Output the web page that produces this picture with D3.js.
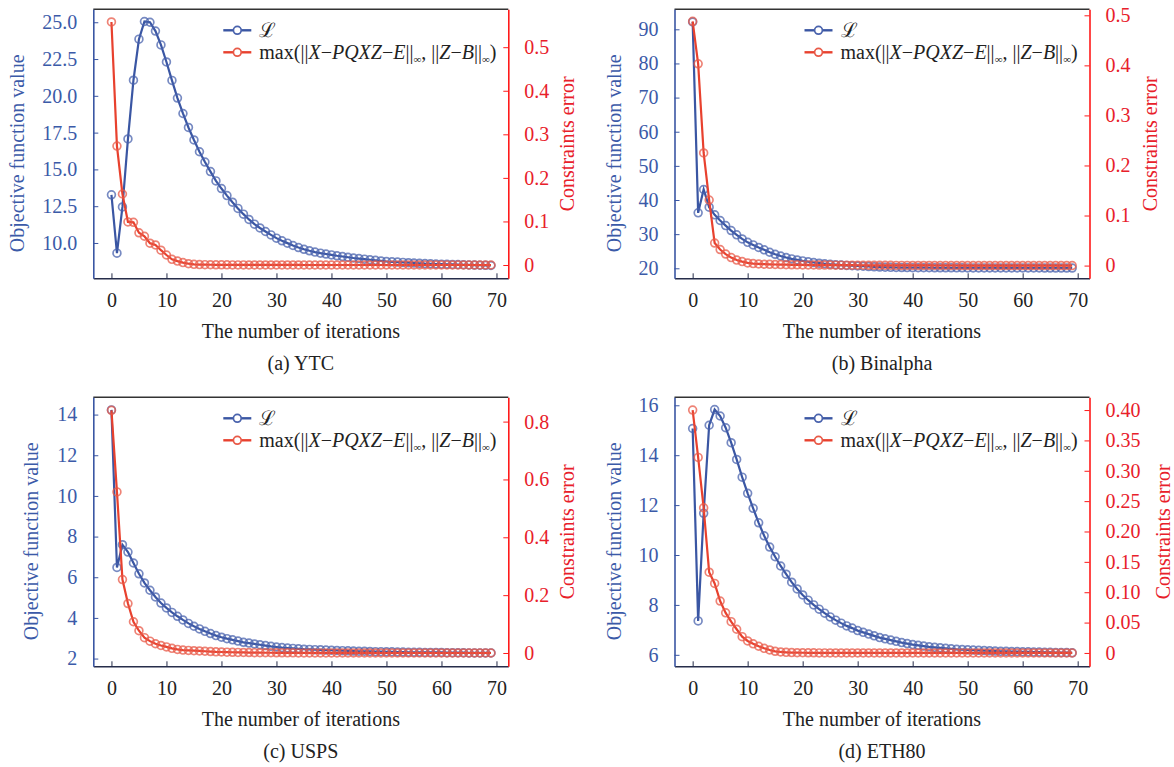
<!DOCTYPE html>
<html>
<head>
<meta charset="utf-8">
<script src="https://cdn.jsdelivr.net/npm/d3@7"></script>
<style>
body{margin:0;background:#fff}
svg text{font-family:"Liberation Serif","Times New Roman",serif}
</style>
</head>
<body>
<svg id="chart" width="1174" height="767"></svg>
<script>
// objective value L and constraint error, one value per iteration (0..69)
const ytcObjective = [13.27,9.31,12.45,17.07,21.06,23.85,25.05,25.0,24.4,23.46,
  22.3,21.05,19.85,18.8,17.85,17.0,16.2,15.5,14.85,14.22,
  13.7,13.22,12.77,12.35,11.96,11.6,11.28,11.02,10.78,10.55,
  10.33,10.15,9.99,9.83,9.69,9.57,9.47,9.38,9.31,9.25,
  9.19,9.13,9.08,9.03,8.98,8.94,8.9,8.86,8.82,8.78,
  8.74,8.72,8.7,8.68,8.66,8.64,8.62,8.6,8.59,8.57,
  8.56,8.55,8.54,8.53,8.52,8.51,8.5,8.49,8.48,8.47]
const ytcError = [0.558,0.273,0.163,0.099,0.098,0.074,0.066,0.05,0.046,0.034,
  0.023,0.013,0.009,0.0055,0.003,0.0015,0.001,0.0008,0.0006,0.0005,
  0.0004,0.0004,0.0003,0.0003,0.0003,0.0002,0.0002,0.0002,0.0002,0.0001,
  0.0001,0.0001,0.0001,0.0001,0.0001,0,0,0,0,0,
  0,0,0,0,0,0,0,0,0,0,
  0,0,0,0,0,0,0,0,0,0,
  0,0,0,0,0,0,0,0,0,0]

const binObjective = [92.15,36.24,43.08,37.9,35.65,34.0,32.5,31.05,29.8,28.6,
  27.6,26.85,26.1,25.4,24.7,24.1,23.6,23.15,22.75,22.45,
  22.16,21.92,21.7,21.5,21.33,21.18,21.05,20.94,20.85,20.76,
  20.69,20.6,20.52,20.44,20.37,20.31,20.27,20.24,20.22,20.2,
  20.19,20.18,20.17,20.16,20.15,20.15,20.14,20.14,20.13,20.13,
  20.12,20.12,20.12,20.11,20.11,20.11,20.1,20.1,20.1,20.1,
  20.09,20.09,20.09,20.09,20.08,20.08,20.08,20.08,20.08,20.07]
const binError = [0.488,0.403,0.225,0.131,0.045,0.032,0.023,0.016,0.011,0.008,
  0.0053,0.004,0.0033,0.0028,0.0025,0.0022,0.002,0.0018,0.0016,0.0015,
  0.0014,0.0013,0.0012,0.0011,0.001,0.001,0.0009,0.0009,0.0008,0.0008,
  0.0007,0.0007,0.0006,0.0006,0.0005,0.0005,0.0005,0.0004,0.0004,0.0004,
  0.0003,0.0003,0.0003,0.0003,0.0002,0.0002,0.0002,0.0002,0.0002,0.0001,
  0.0001,0.0001,0.0001,0.0001,0.0001,0,0,0,0,0,
  0,0,0,0,0,0,0,0,0,0]

const uspsObjective = [14.23,6.48,7.6,7.24,6.7,6.17,5.72,5.36,5.03,4.73,
  4.49,4.27,4.08,3.9,3.73,3.59,3.46,3.34,3.23,3.13,
  3.05,2.98,2.92,2.86,2.8,2.76,2.72,2.68,2.64,2.6,
  2.57,2.54,2.52,2.5,2.48,2.46,2.45,2.44,2.43,2.42,
  2.41,2.4,2.39,2.38,2.37,2.36,2.36,2.35,2.34,2.34,
  2.33,2.33,2.32,2.32,2.31,2.31,2.31,2.3,2.3,2.3,
  2.3,2.29,2.29,2.29,2.29,2.28,2.28,2.28,2.28,2.28]
const uspsError = [0.839,0.557,0.254,0.171,0.108,0.077,0.053,0.041,0.032,0.026,
  0.021,0.016,0.0125,0.01,0.009,0.008,0.007,0.006,0.005,0.004,
  0.0035,0.003,0.0025,0.002,0.0018,0.0015,0.0012,0.001,0.0009,0.0008,
  0.0007,0.0006,0.0005,0.0005,0.0004,0.0004,0.0003,0.0003,0.0003,0.0002,
  0.0002,0.0002,0.0002,0.0001,0.0001,0.0001,0.0001,0.0001,0,0,
  0,0,0,0,0,0,0,0,0,0,
  0,0,0,0,0,0,0,0,0,0]

const ethObjective = [15.07,7.36,11.67,15.2,15.83,15.57,15.1,14.5,13.83,13.12,
  12.47,11.87,11.29,10.77,10.32,9.93,9.56,9.23,8.91,8.64,
  8.4,8.19,8.0,7.83,7.67,7.52,7.39,7.27,7.16,7.07,
  6.97,6.9,6.83,6.76,6.69,6.64,6.59,6.54,6.49,6.45,
  6.41,6.38,6.35,6.32,6.3,6.28,6.26,6.24,6.22,6.21,
  6.2,6.19,6.18,6.17,6.16,6.15,6.14,6.14,6.13,6.13,
  6.12,6.12,6.11,6.11,6.1,6.1,6.09,6.09,6.09,6.08]
const ethError = [0.4,0.322,0.239,0.133,0.1145,0.0855,0.066,0.0515,0.039,0.0268,
  0.0197,0.015,0.011,0.0076,0.0049,0.0027,0.0016,0.001,0.0006,0.0004,
  0.0003,0.0002,0.0002,0.0001,0.0001,0,0,0,0,0,
  0,0,0,0,0,0,0,0,0,0,
  0,0,0,0,0,0,0,0,0,0,
  0,0,0,0,0,0,0,0,0,0,
  0,0,0,0,0,0,0,0,0,0]

// tick values and labels
const iterTicks = [0,10,20,30,40,50,60,70]
const ytcLeftTicks = [10,12.5,15,17.5,20,22.5,25]
const ytcLeftLabels = ['10.0','12.5','15.0','17.5','20.0','22.5','25.0']
const ytcRightTicks = [0,0.1,0.2,0.3,0.4,0.5]
const ytcRightLabels = ['0','0.1','0.2','0.3','0.4','0.5']
const binLeftTicks = [20,30,40,50,60,70,80,90]
const binLeftLabels = ['20','30','40','50','60','70','80','90']
const binRightTicks = [0,0.1,0.2,0.3,0.4,0.5]
const binRightLabels = ['0','0.1','0.2','0.3','0.4','0.5']
const uspsLeftTicks = [2,4,6,8,10,12,14]
const uspsLeftLabels = ['2','4','6','8','10','12','14']
const uspsRightTicks = [0,0.2,0.4,0.6,0.8]
const uspsRightLabels = ['0','0.2','0.4','0.6','0.8']
const ethLeftTicks = [6,8,10,12,14,16]
const ethLeftLabels = ['6','8','10','12','14','16']
const ethRightTicks = [0,0.05,0.1,0.15,0.2,0.25,0.3,0.35,0.4]
const ethRightLabels = ['0','0.05','0.10','0.15','0.20','0.25','0.30','0.35','0.40']

const captions = ['(a) YTC','(b) Binalpha','(c) USPS','(d) ETH80']

const blue = '#3a56a3', red = '#e8412e'
const blueMark = '#4a63ad', redMark = '#e85a48'
const blueText = '#3b5aa8', redText = '#e8202a'
const W = 415, H = 269
const serif = '"Liberation Serif","Times New Roman",serif'

const panels = [
  {L: ytcObjective, E: ytcError, left: 93.3, top: 9.3, dl: [7.6,25.88], dr: [-0.0305,0.587],
   lt: ytcLeftTicks, ll: ytcLeftLabels, rt: ytcRightTicks, rl: ytcRightLabels, titleL: -69, titleR: 66},
  {L: binObjective, E: binError, left: 674.5, top: 9.3, dl: [17.07,95.86], dr: [-0.0254,0.512],
   lt: binLeftTicks, ll: binLeftLabels, rt: binRightTicks, rl: binRightLabels, titleL: -53.5, titleR: 67},
  {L: uspsObjective, E: uspsError, left: 93.3, top: 397.3, dl: [1.62,14.85], dr: [-0.046,0.884],
   lt: uspsLeftTicks, ll: uspsLeftLabels, rt: uspsRightTicks, rl: uspsRightLabels, titleL: -55, titleR: 66},
  {L: ethObjective, E: ethError, left: 674.5, top: 397.3, dl: [5.54,16.32], dr: [-0.022,0.421],
   lt: ethLeftTicks, ll: ethLeftLabels, rt: ethRightTicks, rl: ethRightLabels, titleL: -53.5, titleR: 80}
]

const svg = d3.select('#chart')

panels.forEach((p, k) => {
  const g = svg.append('g').attr('transform', `translate(${p.left},${p.top})`)

  const x = d3.scaleLinear().domain([-3.3, 72.15]).range([0, W])
  const yL = d3.scaleLinear().domain(p.dl).range([H, 0])
  const yR = d3.scaleLinear().domain(p.dr).range([H, 0])

  // frame top
  g.append('line').attr('x1',0).attr('x2',W).attr('y1',0).attr('y2',0)
    .attr('stroke','#333').attr('stroke-width',1.5)

  const ax = g.append('g').attr('transform',`translate(0,${H})`)
    .call(d3.axisBottom(x).tickValues(iterTicks).tickSizeInner(-5).tickSizeOuter(0).tickPadding(15))
  ax.attr('color','#262d4a').attr('font-size',20).attr('font-family',serif)
  ax.selectAll('text').attr('fill','#222')
  ax.select('.domain').attr('stroke-width',1.6)

  const al = g.append('g')
    .call(d3.axisLeft(yL).tickValues(p.lt).tickFormat((d,i)=>p.ll[i]).tickSizeInner(-5).tickSizeOuter(0).tickPadding(16))
  al.attr('color',blue).attr('font-size',20).attr('font-family',serif)
  al.selectAll('text').attr('fill',blueText)
  al.select('.domain').attr('stroke-width',1.6)

  const ar = g.append('g').attr('transform',`translate(${W},0)`)
    .call(d3.axisRight(yR).tickValues(p.rt).tickFormat((d,i)=>p.rl[i]).tickSizeInner(-5).tickSizeOuter(0).tickPadding(16))
  ar.attr('color','#ff1a1a').attr('font-size',20).attr('font-family',serif)
  ar.selectAll('text').attr('fill',redText)
  ar.select('.domain').attr('stroke-width',1.6)

  // series
  const lineL = d3.line().x((d,i)=>x(i)).y(d=>yL(d))
  const lineR = d3.line().x((d,i)=>x(i)).y(d=>yR(d))

  g.append('path').datum(p.L).attr('d',lineL).attr('fill','none')
    .attr('stroke',blue).attr('stroke-width',2.2)
  g.selectAll('.mL').data(p.L).enter().append('circle')
    .attr('cx',(d,i)=>x(i)).attr('cy',d=>yL(d)).attr('r',3.9)
    .attr('fill','none').attr('stroke',blueMark).attr('stroke-width',1.7).attr('stroke-opacity',0.75)

  g.append('path').datum(p.E).attr('d',lineR).attr('fill','none')
    .attr('stroke',red).attr('stroke-width',2.2)
  g.selectAll('.mR').data(p.E).enter().append('circle')
    .attr('cx',(d,i)=>x(i)).attr('cy',d=>yR(d)).attr('r',3.9)
    .attr('fill','none').attr('stroke',redMark).attr('stroke-width',1.7).attr('stroke-opacity',0.75)

  // axis titles
  g.append('text')
    .attr('transform',`translate(${p.titleL},${H/2+9.5}) rotate(-90)`)
    .attr('text-anchor','middle').attr('font-size',20).attr('fill',blueText)
    .text('Objective function value')
  g.append('text')
    .attr('transform',`translate(${W+p.titleR},${H/2}) rotate(-90)`)
    .attr('text-anchor','middle').attr('font-size',20).attr('fill',redText)
    .text('Constraints error')
  g.append('text').attr('x',W/2).attr('y',H+60)
    .attr('text-anchor','middle').attr('font-size',20).attr('fill','#222')
    .text('The number of iterations')
  g.append('text').attr('x',W/2).attr('y',H+91.5)
    .attr('text-anchor','middle').attr('font-size',20).attr('fill','#222')
    .text(captions[k])

  // legend
  const lg = g.append('g').attr('transform','translate(130,0)')
  ;[[21,blue,blueMark],[43,red,redMark]].forEach(([yy,c,mc]) => {
    lg.append('line').attr('x1',0).attr('x2',28).attr('y1',yy).attr('y2',yy)
      .attr('stroke',c).attr('stroke-width',2.4)
    lg.append('circle').attr('cx',14).attr('cy',yy).attr('r',3.9)
      .attr('fill','#fff').attr('stroke',mc).attr('stroke-width',1.7)
  })
  lg.append('text').attr('x',36).attr('y',21).attr('dy','0.33em')
    .attr('font-size',20).attr('fill','#222').text('ℒ')
  const t = lg.append('text').attr('x',36).attr('y',43).attr('dy','0.33em')
    .attr('font-size',20).attr('fill','#222')
  const parts = [
    ['max(||',0], ['X',1], ['−',0], ['PQXZ',1], ['−',0], ['E',1], ['||',0], ['∞',2],
    [', ||',3], ['Z',1], ['−',0], ['B',1], ['||',0], ['∞',2], [')',3]
  ]
  parts.forEach(([s,m]) => {
    const ts = t.append('tspan').text(s)
    if (m === 1) ts.attr('font-style','italic')
    if (m === 2) ts.attr('font-size',11).attr('dy',4)
    if (m === 3) ts.attr('dy',-4)
  })
})
</script>
</body>
</html>
